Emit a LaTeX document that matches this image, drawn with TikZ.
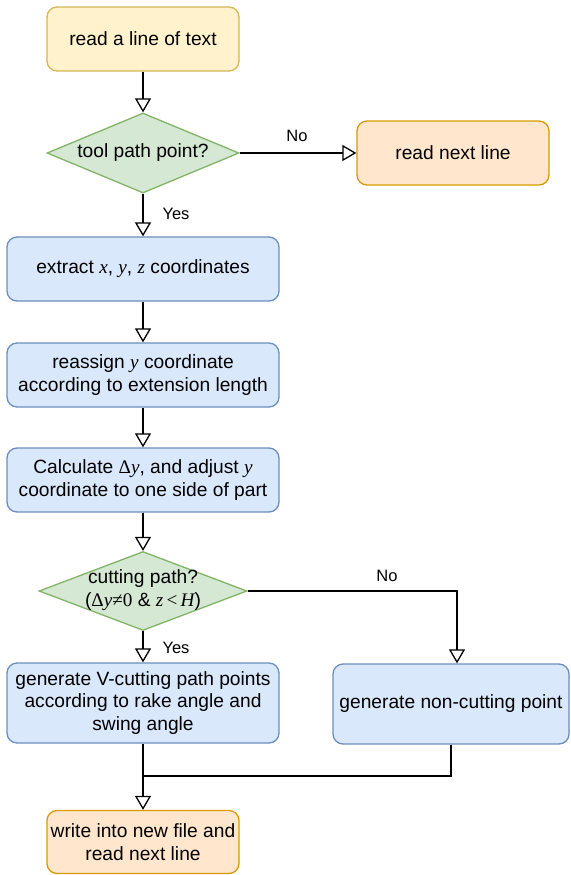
\documentclass[tikz,border=0pt]{standalone}
\usepackage{fontspec}
\setmainfont{Liberation Sans}
\newfontfamily\serf{Liberation Serif}
\usetikzlibrary{arrows.meta,shapes.geometric}
\newcommand{\mv}[1]{{\serf\itshape #1}}
\definecolor{ylwF}{HTML}{FFF2CC}\definecolor{ylwD}{HTML}{D6B656}
\definecolor{grnF}{HTML}{D5E8D4}\definecolor{grnD}{HTML}{82B366}
\definecolor{orgF}{HTML}{FFE6CC}\definecolor{orgD}{HTML}{D79B00}
\definecolor{bluF}{HTML}{DAE8FC}\definecolor{bluD}{HTML}{6C8EBF}
\begin{document}
\begin{tikzpicture}[x=1pt,y=-1pt,
  every node/.style={font=\fontsize{19.2}{22.5}\selectfont, align=center, inner sep=0pt},
  boxbase/.style={rectangle, rounded corners=10pt, line width=1.3pt},
  ybox/.style={boxbase, fill=ylwF, draw=ylwD},
  obox/.style={boxbase, fill=orgF, draw=orgD},
  bbox/.style={boxbase, fill=bluF, draw=bluD},
  dbox/.style={diamond, fill=grnF, draw=grnD, line width=1.3pt, inner sep=0pt},
  arr/.style={line width=1.3pt, -{Triangle[open,length=14pt,width=16pt,line width=1.3pt]}},
  ln/.style={line width=1.3pt},
  lbl/.style={font=\fontsize{16.5}{18}\selectfont}
]
\useasboundingbox (0,0) rectangle (570,875);
\node[ybox, minimum width=192pt, minimum height=64pt] (n1) at (143,39) {read a line of text};
\node[dbox, minimum width=192pt, minimum height=80pt] (d1) at (143,153) {};
\node (d1t) at (143,153) {tool path point?};
\node[obox, minimum width=192pt, minimum height=64pt] (n2) at (453,153) {read next line};
\node[bbox, minimum width=272pt, minimum height=64pt] (n3) at (143,269) {extract \mv{x}, \mv{y}, \mv{z} coordinates};
\node[bbox, minimum width=272pt, minimum height=64pt] (n4) at (143,375) {reassign \mv{y} coordinate\\according to extension length};
\node[bbox, minimum width=272pt, minimum height=64pt] (n5) at (143,480) {Calculate {\serf Δ}\mv{y}, and adjust \mv{y}\\coordinate to one side of part};
\node[dbox, minimum width=208pt, minimum height=79pt] (d2) at (143,591) {};
\node (d2t) at (143,590) {cutting path?\\({\serf Δ}\mv{y}{\serf ≠0} \& \mv{z}\,{\serf <}\,\mv{H})};
\node[bbox, minimum width=272pt, minimum height=80pt] (n6) at (143,703) {generate V-cutting path points\\according to rake angle and\\swing angle};
\node[bbox, minimum width=236pt, minimum height=80pt] (n7) at (451,704) {generate non-cutting point};
\node[obox, minimum width=192pt, minimum height=63pt] (n8) at (143,842) {write into new file and\\read next line};
\coordinate (m) at (143,776);
\coordinate (k) at (457,591);
\node[lbl] (no1) at (297,136) {No};
\node[lbl] (yes1) at (176,214) {Yes};
\node[lbl] (no2) at (387,576) {No};
\node[lbl] (yes2) at (176,648) {Yes};
\draw[arr] (n1) -- (d1);
\draw[arr] (d1) -- (n2);
\draw[arr] (d1) -- (n3);
\draw[arr] (n3) -- (n4);
\draw[arr] (n4) -- (n5);
\draw[arr] (n5) -- (d2);
\draw[arr] (d2) -- (n6);
\draw[arr] (d2.east) -- (k) -- (k |- n7.north);
\draw[ln] (n7.south) |- (m);
\draw[arr] (n6) -- (n8);
\end{tikzpicture}
\end{document}
